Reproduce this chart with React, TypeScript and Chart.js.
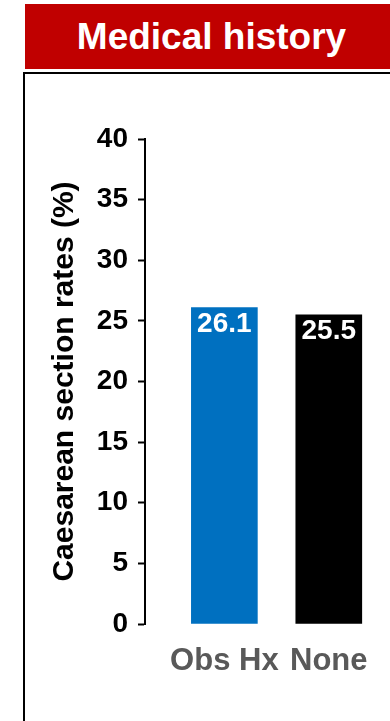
import React, { useEffect, useRef } from "react";
import { Chart, registerables } from "chart.js";

Chart.register(...registerables);

// Caesarean section rates by medical history group
const categories = ["Obs Hx", "None"];
const rates = [26.1, 25.5];
const barColors = ["#0070C0", "#000000"];
const yTicks = [0, 5, 10, 15, 20, 25, 30, 35, 40];

const FONT = "'Liberation Sans', Arial, Helvetica, sans-serif";

// Writes each bar's value in white just inside its top edge
const valueLabels = {
  id: "valueLabels",
  afterDatasetsDraw(chart: any) {
    const { ctx } = chart;
    const meta = chart.getDatasetMeta(0);
    ctx.save();
    ctx.fillStyle = "#FFFFFF";
    ctx.font = `bold 28px ${FONT}`;
    ctx.textAlign = "center";
    ctx.textBaseline = "alphabetic";
    meta.data.forEach((bar: any, i: number) => {
      ctx.fillText(rates[i].toFixed(1), bar.x, bar.y + 24);
    });
    ctx.restore();
  },
};

export default function App() {
  const canvasRef = useRef<HTMLCanvasElement | null>(null);

  useEffect(() => {
    if (!canvasRef.current) return;
    const chart = new Chart(canvasRef.current, {
      type: "bar",
      data: {
        datasets: [
          {
            data: categories.map((_, i) => ({ x: i + 1, y: rates[i] })) as any,
            backgroundColor: barColors,
            borderWidth: 0,
            barThickness: 66,
          },
        ],
      },
      options: {
        responsive: false,
        animation: false,
        devicePixelRatio: 1,
        layout: { padding: { left: 40, top: 139, right: 9, bottom: 37 } },
        plugins: {
          legend: { display: false },
          tooltip: { enabled: false },
        },
        scales: {
          x: {
            type: "linear",
            min: 0.24,
            max: 2.5,
            offset: false,
            bounds: "ticks",
            grid: { display: false, drawTicks: false, offset: false },
            border: { display: false },
            afterBuildTicks(scale: any) {
              scale.ticks = categories.map((_, i) => ({ value: i + 1 }));
            },
            afterFit(scale: any) {
              scale.height = 60;
            },
            ticks: {
              autoSkip: false,
              maxRotation: 0,
              padding: 19,
              color: "#595959",
              font: { family: FONT, size: 31, weight: "bold" },
              callback: (v: any) => categories[Number(v) - 1] ?? "",
            },
          },
          y: {
            min: 0,
            max: 40,
            afterBuildTicks(scale: any) {
              scale.ticks = yTicks.map((v) => ({ value: v }));
            },
            afterFit(scale: any) {
              scale.width = 105;
            },
            grid: {
              display: true,
              drawOnChartArea: false,
              drawTicks: true,
              tickLength: 7,
              tickWidth: 2,
              tickColor: "#000000",
            },
            border: { display: true, color: "#000000", width: 2 },
            ticks: {
              padding: 10,
              color: "#000000",
              font: { family: FONT, size: 28, weight: "bold" },
            },
            title: {
              display: true,
              text: "Caesarean section rates (%)",
              color: "#000000",
              padding: { top: 7, bottom: 0 },
              font: { family: FONT, size: 30, weight: "bold" },
            },
          },
        },
      },
      plugins: [valueLabels],
    });
    return () => chart.destroy();
  }, []);

  return (
    <div
      style={{
        position: "absolute",
        left: 0,
        top: 0,
        width: 390,
        height: 721,
        overflow: "hidden",
        background: "#FFFFFF",
      }}
    >
      <div
        style={{
          position: "absolute",
          left: 25,
          top: 4,
          width: 365,
          height: 65,
          background: "#C00000",
          color: "#FFFFFF",
          fontFamily: FONT,
          fontWeight: "bold",
          fontSize: 37,
          lineHeight: "65px",
          textAlign: "center",
          paddingLeft: 8,
          boxSizing: "border-box",
          whiteSpace: "nowrap",
        }}
      >
        Medical history
      </div>
      <div
        style={{
          position: "absolute",
          left: 23,
          top: 72,
          width: 420,
          height: 700,
          border: "2px solid #000000",
        }}
      />
      <canvas
        ref={canvasRef}
        width={390}
        height={721}
        style={{ position: "absolute", left: 0, top: 0, width: 390, height: 721 }}
      />
    </div>
  );
}
